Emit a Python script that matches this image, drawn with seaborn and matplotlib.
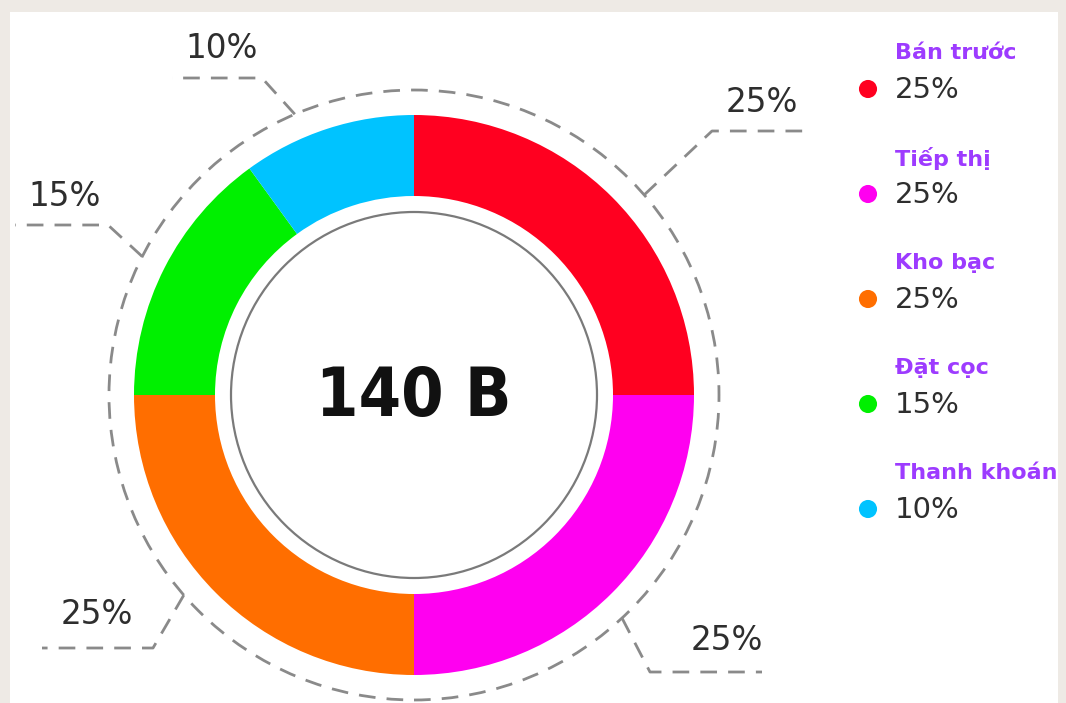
import numpy as np
import pandas as pd
import matplotlib
matplotlib.use("Agg")
import matplotlib.pyplot as plt
import seaborn as sns
from matplotlib.patches import Circle, Rectangle

# ---------------- data ----------------
categories = ["Bán trước", "Tiếp thị", "Kho bạc", "Đặt cọc", "Thanh khoán"]
shares = [25, 25, 25, 15, 10]
colors = ["#FF0020", "#FF00F0", "#FF6E00", "#00F000", "#00C3FF"]
center_label = "140 B"

# ---------------- layout (pixels, y from top) ----------------
W, H = 1066, 703
CX, CY = 414, 395
R_OUT, RING_W = 280, 81
R_INNER_LINE = 183
R_DASH = 305
# leader lines: start angle (deg, clockwise from top), elbow point, end x of horizontal run
leader_angles = [49, 137, 229, 297, 337]
leader_elbows = [(712, 131), (650, 672), (153, 648), (108, 225), (262, 78)]
leader_ends = [812, 762, 42, 15, 172]
label_pos = [(762, 103), (727, 640), (97, 615), (65, 196), (222, 49)]
legend_dot_x, legend_text_x = 868, 895
legend_y0, legend_dy = 52, 105

sns.set_theme(style="white")
plt.rcParams['font.family'] = ['DejaVu Sans']

fig = plt.figure(figsize=(W / 100, H / 100), dpi=100, facecolor="#EEEAE5")
ax = fig.add_axes([0, 0, 1, 1])
ax.set_facecolor("none")

def Y(y):
    return H - y

# white panel
ax.add_patch(Rectangle((10, 0), 1048, H - 12, facecolor="white", edgecolor="none", zorder=0))

# donut
ax.pie(shares, colors=colors, startangle=90, counterclock=False,
       radius=R_OUT, center=(CX, Y(CY)),
       wedgeprops=dict(width=RING_W, linewidth=0, antialiased=True))

# inner thin circle
ax.add_patch(Circle((CX, Y(CY)), R_INNER_LINE, facecolor="none", edgecolor="#7a7a7a", lw=1.6, zorder=3))
# outer dashed circle
ax.add_patch(Circle((CX, Y(CY)), R_DASH, facecolor="none", edgecolor="#8a8a8a", lw=2.0,
                    linestyle=(0, (6, 4)), zorder=3))

# centre text
ax.text(CX, Y(CY + 2), center_label, ha="center", va="center", fontsize=49,
        fontweight="bold", fontstretch="condensed", color="#111111", zorder=4)

# leader lines and labels
for ang, (ex, ey), hx, (lx, ly), s in zip(leader_angles, leader_elbows, leader_ends, label_pos, shares):
    t = np.deg2rad(ang)
    sx = CX + R_DASH * np.sin(t)
    sy = CY - R_DASH * np.cos(t)
    ax.plot([sx, ex, hx], [Y(sy), Y(ey), Y(ey)], color="#8a8a8a", lw=2.0,
            linestyle=(0, (6, 4)), solid_capstyle="butt", zorder=3)
    ax.text(lx, Y(ly), f"{s}%", ha="center", va="center", fontsize=23.5, color="#2e2e2e", zorder=4)

# legend
leg_df = pd.DataFrame({
    "cat": categories,
    "x": [legend_dot_x] * len(categories),
    "y": [Y(legend_y0 + 37 + i * legend_dy) for i in range(len(categories))],
})
sns.scatterplot(data=leg_df, x="x", y="y", hue="cat", palette=colors, s=170,
                edgecolor="none", legend=False, ax=ax, zorder=5)
for i, (c, s) in enumerate(zip(categories, shares)):
    ty = legend_y0 + 1 + i * legend_dy
    ax.text(legend_text_x, Y(ty), c, ha="left", va="center", fontsize=16,
            fontweight="bold", color="#9D3BFF", zorder=5)
    ax.text(legend_text_x, Y(ty + 37), f"{s}%", ha="left", va="center", fontsize=21,
            color="#2e2e2e", zorder=5)

ax.set_aspect("equal")
ax.set_xlim(0, W)
ax.set_ylim(0, H)
ax.axis("off")
fig.savefig("out.png", dpi=100, facecolor=fig.get_facecolor())
